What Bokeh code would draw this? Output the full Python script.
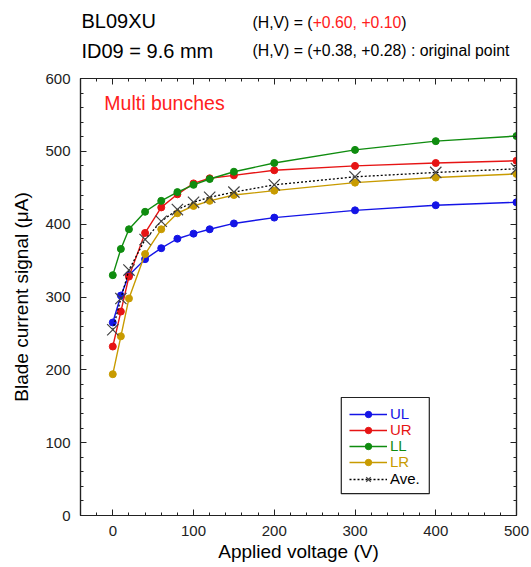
from bokeh.plotting import figure
from bokeh.layouts import column
from bokeh.models import (FixedTicker, LinearAxis, Range1d, Legend, LegendItem, BoxAnnotation,
                          CustomLabelingPolicy)
from bokeh.core.properties import value
from bokeh.embed import file_html
from bokeh.resources import INLINE

# ---- data ----
volts = [0, 10, 20, 40, 60, 80, 100, 120, 150, 200, 300, 400, 500]
ul = [265, 302, 330, 352, 367, 380, 387, 393, 401, 409, 419, 426, 430]
ur = [232, 280, 328, 388, 423, 441, 456, 463, 467, 474, 480, 484, 487]
ll = [330, 366, 393, 417, 432, 444, 454, 462, 472, 484, 502, 514, 521]
lr = [194, 246, 298, 359, 393, 415, 425, 432, 440, 446, 457, 464, 469]
ave = [255, 298, 337, 379, 404, 420, 430, 437, 444, 454, 465, 471, 476]

series_names = ["UL", "UR", "LL", "LR"]
series_values = [ul, ur, ll, lr]
series_colors = ["#1414e6", "#e61414", "#0f8c0f", "#c89b00"]
ave_name = "Ave."

x_ticks = [0, 100, 200, 300, 400, 500]
x_minor = list(range(-20, 501, 20))
y_ticks = [0, 100, 200, 300, 400, 500, 600]
y_minor = list(range(0, 601, 20))

FONT = "Liberation Sans"
HEADER_H = 67
FRAME_L, FRAME_R = 80, 516   # pixel columns of the plot frame

# ---------------- header (texts above the plot) ----------------
# the column layout aligns this figure's frame with the main frame, so its
# x range is expressed in page pixels of that frame
hdr = figure(width=531, height=HEADER_H, x_range=Range1d(FRAME_L, FRAME_R),
             y_range=Range1d(HEADER_H, 0),
             output_backend="svg", toolbar_location=None,
             x_axis_location=None, y_axis_location=None,
             min_border_left=FRAME_L, min_border_right=531 - FRAME_R,
             min_border_top=0, min_border_bottom=0)
hdr.outline_line_color = None
hdr.xgrid.visible = False
hdr.ygrid.visible = False


def htext(x, y, t, color="black", size=15.0):
    hdr.text([x], [y], text=[t], text_color=color, text_font=value(FONT),
             text_font_size=value(f"{size}px"), text_baseline="middle", text_align="left")

# Arial / Liberation Sans advance widths (em) for placing consecutive coloured runs
W = {"(": .333, ")": .333, "H": .722, ",": .278, "V": .667, " ": .278, "=": .584,
     "+": .584, ".": .278, "0": .556, "1": .556, "6": .556}


def width(s, size):
    return sum(W[c] for c in s) * size

htext(81, 20, "BL09XU", size=20)
htext(81, 50, "ID09 = 9.6 mm", size=20)
s1, s2, s3 = "(H,V) = (", "+0.60, +0.10", ")"
HS = 15.8
x0 = 252
htext(x0, 22, s1, size=HS)
htext(x0 + width(s1, HS), 22, s2, color="#ff2020", size=HS)
htext(x0 + width(s1, HS) + width(s2, HS), 22, s3, size=HS)
htext(x0, 50, "(H,V) = (+0.38, +0.28) : original point", size=HS)

# ---------------- main plot ----------------
p = figure(width=531, height=567 - HEADER_H,
           x_range=Range1d(-40, 500), y_range=Range1d(0, 600),
           output_backend="svg", toolbar_location=None,
           min_border_left=FRAME_L, min_border_right=531 - FRAME_R,
           min_border_top=78 - HEADER_H, min_border_bottom=52)
p.background_fill_color = "white"
p.border_fill_color = "white"
p.outline_line_color = "#222222"
p.outline_line_width = 1.2
p.xgrid.visible = False
p.ygrid.visible = False

xt = FixedTicker(ticks=x_ticks, minor_ticks=x_minor)
yt = FixedTicker(ticks=y_ticks, minor_ticks=y_minor)

# mirror axes (top/right) show ticks only: the labeling policy keeps no label
no_labels = CustomLabelingPolicy(code="""
const all = [...indices]
for (const i of all) indices.unset(i)
return indices
""")


def style_axis(ax, show_labels=True):
    ax.axis_line_color = "#222222"
    ax.axis_line_width = 1.2
    ax.major_tick_in = 6
    ax.major_tick_out = 0
    ax.minor_tick_in = 3
    ax.minor_tick_out = 0
    ax.major_tick_line_color = "#222222"
    ax.minor_tick_line_color = "#222222"
    ax.major_label_text_font = FONT
    ax.axis_label_text_font = FONT
    ax.axis_label_text_font_style = "normal"
    ax.axis_label_text_color = "black"
    ax.major_label_text_color = "#222222"
    ax.major_label_text_font_size = "15px"
    ax.axis_label_text_font_size = "19px"
    if not show_labels:
        ax.major_label_policy = no_labels
        ax.major_label_text_font_size = "1px"
        ax.major_label_standoff = 0


xa = p.xaxis[0]
xa.ticker = xt
xa.axis_label = "Applied voltage (V)"
style_axis(xa)
xa.major_label_standoff = 10
xa.axis_label_standoff = 2

ya = p.yaxis[0]
ya.ticker = yt
ya.axis_label = "Blade current signal (\u03bcA)"
style_axis(ya)
ya.major_label_standoff = 10
ya.axis_label_standoff = 10

top_ax = LinearAxis(ticker=xt)
style_axis(top_ax, show_labels=False)
p.add_layout(top_ax, "above")
right_ax = LinearAxis(ticker=yt)
style_axis(right_ax, show_labels=False)
p.add_layout(right_ax, "right")

renderers = []
for name, vals, col in zip(series_names, series_values, series_colors):
    lr_ = p.line(volts, vals, line_color=col, line_width=1.4)
    sr_ = p.scatter(volts, vals, marker="circle", size=7, fill_color=col, line_color=col)
    renderers.append([lr_, sr_])

al = p.line(volts, ave, line_color="black", line_width=1.3, line_dash="2 2")
asr = p.scatter(volts, ave, marker="x", size=16, line_color="#444444", line_width=1.2)
renderers.append([al, asr])

p.text([-10.5], [566], text=["Multi bunches"], text_color="#ff2020", text_font=value(FONT),
       text_font_size=value("19.5px"), text_baseline="middle", text_align="left")

# legend frame (box only), in data units of the frame
p.add_layout(BoxAnnotation(left=283, right=392, bottom=30, top=162,
                           fill_color="white", fill_alpha=1,
                           line_color="#222222", line_width=1.2, line_alpha=1))

# one legend per entry so each label keeps its series colour
legend_text_colors = series_colors + ["black"]
bottoms = [93, 77, 61, 45, 28]
for name, rs, col, b in zip(series_names + [ave_name], renderers, legend_text_colors, bottoms):
    lg = Legend(items=[LegendItem(label=name, renderers=rs)], location=(269, b),
                padding=0, spacing=0, margin=0, glyph_width=38, glyph_height=16,
                label_height=16, label_standoff=3, label_text_font=FONT,
                label_text_font_size="15px", label_text_color=col,
                border_line_alpha=0, background_fill_alpha=0)
    p.add_layout(lg)

open("out.html", "w").write(file_html(column(hdr, p, spacing=0), INLINE))
